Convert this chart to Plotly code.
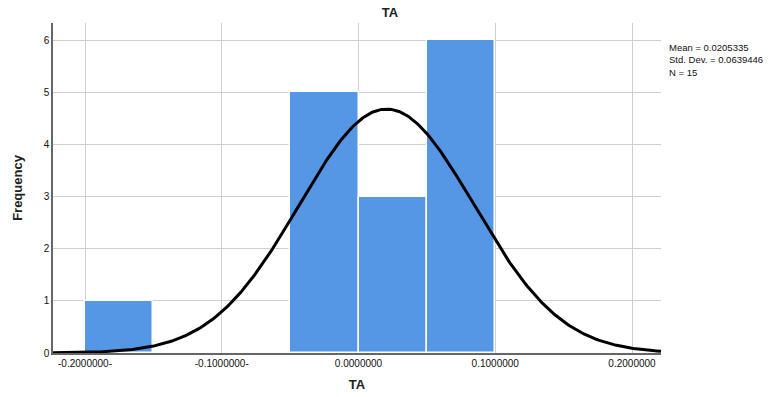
import numpy as np
import plotly.graph_objects as go

# Data
bin_centers = [-0.175, -0.025, 0.025, 0.075]
bin_counts = [1, 5, 3, 6]
bin_width = 0.05
mean = 0.0205335
std_dev = 0.0639446
n = 15
x_tick_vals = [-0.2, -0.1, 0.0, 0.1, 0.2]
x_tick_text = ["-0.2000000-", "-0.1000000-", "0.0000000", "0.1000000", "0.2000000"]
y_tick_vals = [0, 1, 2, 3, 4, 5, 6]
stat_lines = [f"Mean = {mean:.7f}", f"Std. Dev. = {std_dev:.7f}", f"N = {n}"]

x_range = [-0.2234, 0.2212]
y_range = [0, 6.33]

xs = np.linspace(x_range[0], x_range[1], 400)
ys = n * bin_width / (std_dev * np.sqrt(2 * np.pi)) * np.exp(-0.5 * ((xs - mean) / std_dev) ** 2)

font = "Liberation Sans, Arial, sans-serif"

fig = go.Figure()
fig.add_trace(go.Bar(
    x=bin_centers, y=bin_counts, width=bin_width,
    marker=dict(color="#5596E5", line=dict(color="#ffffff", width=1.5)),
    hoverinfo="skip", showlegend=False,
))
fig.add_trace(go.Scatter(
    x=xs, y=ys, mode="lines", line=dict(color="black", width=3),
    hoverinfo="skip", showlegend=False, cliponaxis=False,
))

plot_top, plot_h = 23, 330

fig.update_layout(
    width=780, height=397,
    margin=dict(l=53, r=119, t=23, b=44, autoexpand=False),
    paper_bgcolor="white", plot_bgcolor="white",
    font=dict(family=font, size=10, color="#222222"),
    title=dict(text="<b>TA</b>", x=390 / 780, xanchor="center", y=1 - 12 / 397, yanchor="middle",
               font=dict(size=13, family=font, color="#222222")),
    bargap=0,
    xaxis=dict(
        range=x_range, tickmode="array", tickvals=x_tick_vals, ticktext=x_tick_text,
        showgrid=True, gridcolor="#cfcfcf", gridwidth=1,
        showline=True, linecolor="#666666", linewidth=1.5,
        zeroline=False, ticks="", tickfont=dict(size=10, family=font, color="#111111"), automargin=False,
        title=dict(text="<b>TA</b>", font=dict(size=13, family=font, color="#222222"), standoff=12),
    ),
    yaxis=dict(
        range=y_range, tickmode="array", tickvals=y_tick_vals,
        showgrid=True, gridcolor="#cfcfcf", gridwidth=1,
        showline=True, linecolor="#666666", linewidth=1.5,
        zeroline=False, ticks="", tickfont=dict(size=10, family=font, color="#111111"), automargin=False,
        title=dict(text="<b>Frequency</b>", font=dict(size=13, family=font, color="#222222"), standoff=18),
    ),
    annotations=[dict(
        x=1, xref="paper", xanchor="left", xshift=6,
        y=1 - (40 - plot_top) / plot_h, yref="paper", yanchor="top",
        text="<br>".join(stat_lines), showarrow=False, align="left",
        font=dict(size=9.5, family=font, color="#111111"),
    )],
)

fig.write_html(
    "out.html",
    config={"displayModeBar": False},
    post_script="document.body.style.margin='0';document.body.style.overflow='hidden';",
)
